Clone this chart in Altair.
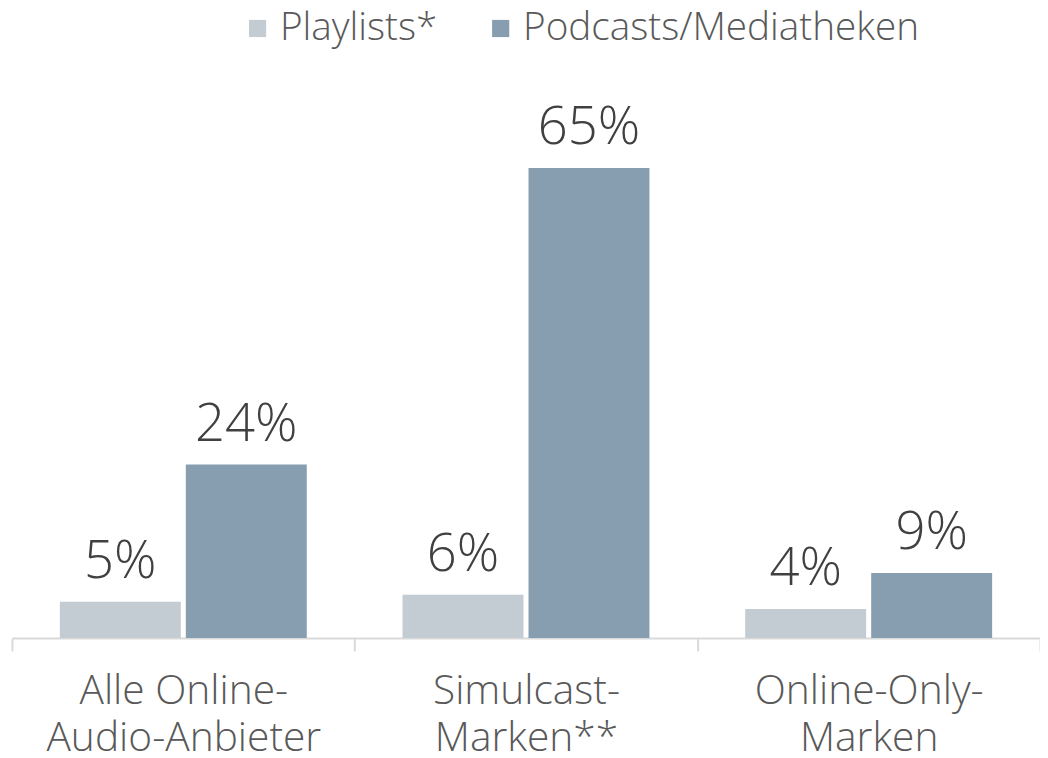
import altair as alt
import pandas as pd

categories = ["Alle Online-\nAudio-Anbieter", "Simulcast-\nMarken**", "Online-Only-\nMarken"]
series = ["Playlists*", "Podcasts/Mediatheken"]
playlists = [5, 6, 4]
podcasts = [24, 65, 9]
colors = ["#c3ccd2", "#879eb0"]

rows = []
for i, c in enumerate(categories):
    rows.append({"cat": c, "series": series[0], "value": playlists[i], "label": f"{playlists[i]}%"})
    rows.append({"cat": c, "series": series[1], "value": podcasts[i], "label": f"{podcasts[i]}%"})
df = pd.DataFrame(rows)

FONT = "Open Sans"

x = alt.X("cat:N", sort=categories, title=None,
          scale=alt.Scale(paddingInner=0, paddingOuter=0),
          axis=alt.Axis(labelExpr="split(datum.label, '\\n')", labelAngle=0,
                        labelFontSize=41, labelColor="#595959", labelFont=FONT,
                        labelFontWeight=300, labelLimit=0,
                        labelLineHeight=47, labelPadding=21, labelBaseline="top",
                        tickBand="extent", tickSize=13, tickColor="#d9d9d9",
                        tickWidth=2, domainColor="#d9d9d9", domainWidth=2))
xo = alt.XOffset("series:N", sort=series,
                 scale=alt.Scale(paddingInner=0.04, paddingOuter=0.38))
y = alt.Y("value:Q", scale=alt.Scale(domain=[0, 80]), axis=None)

bars = alt.Chart(df).mark_bar().encode(
    x=x, xOffset=xo, y=y,
    color=alt.Color("series:N", sort=series,
                    scale=alt.Scale(domain=series, range=colors),
                    legend=alt.Legend(title=None, orient="none", direction="horizontal",
                                      legendX=228, legendY=-51,
                                      symbolType="square", symbolSize=300,
                                      symbolStrokeWidth=0, labelFontSize=39,
                                      labelFont=FONT, labelFontWeight=300,
                                      labelColor="#595959", labelLimit=0,
                                      labelOffset=3, columnPadding=44)),
)

text = alt.Chart(df).mark_text(fontSize=53, font=FONT, fontWeight=300, color="#404040",
                               baseline="alphabetic", dy=-24).encode(
    x=alt.X("cat:N", sort=categories), xOffset=xo, y=y, text="label:N"
)

chart = (bars + text).properties(
    width=1036, height=583,
    autosize=alt.AutoSizeParams(type="none"),
    padding={"left": 4, "top": 49, "right": 0, "bottom": 116},
).configure_view(stroke=None)

chart.save("out.html", embed_options={"renderer": "svg", "actions": False})
